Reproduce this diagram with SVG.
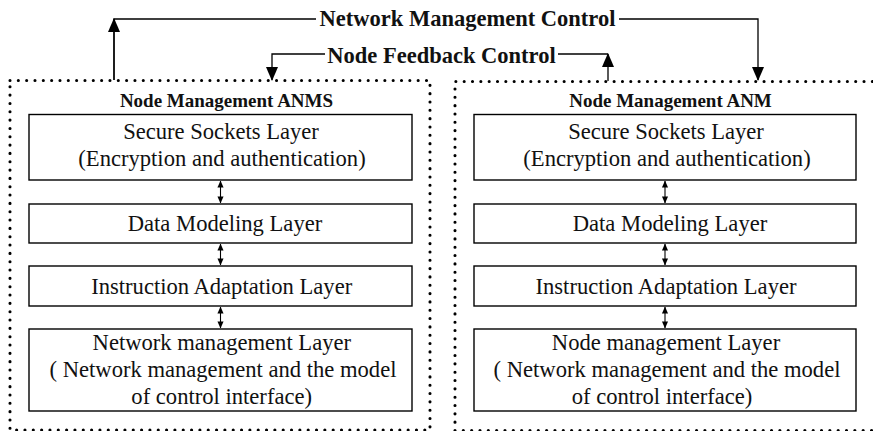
<svg xmlns="http://www.w3.org/2000/svg" width="873" height="431" viewBox="0 0 873 431">
<defs>
<style>
.dot{fill:none;stroke:#000;stroke-width:3.1;stroke-linecap:round;stroke-dasharray:0 8.33}
.box{fill:#fff;stroke:#000;stroke-width:1.4}
.ln{fill:none;stroke:#000;stroke-width:1.3}
.sl{fill:none;stroke:#000;stroke-width:1.1}
.t{font-family:"Liberation Serif","Times New Roman",serif;font-size:22.6px;fill:#111;text-anchor:middle}
.h{font-family:"Liberation Serif","Times New Roman",serif;font-size:19px;font-weight:bold;fill:#111;text-anchor:middle}
.c{font-family:"Liberation Serif","Times New Roman",serif;font-size:22.5px;font-weight:bold;fill:#111;text-anchor:middle}
</style>
<marker id="sm" markerWidth="7" markerHeight="8" refX="7.5" refY="3.5" orient="auto-start-reverse" markerUnits="userSpaceOnUse" viewBox="0 0 8 7">
<path d="M0,0 L8,3.5 L0,7 Z" fill="#000"/>
</marker>
<marker id="bg" markerWidth="14" markerHeight="12" refX="13" refY="6" orient="auto" markerUnits="userSpaceOnUse" viewBox="0 0 14 12">
<path d="M0,0 L14,6 L0,12 Z" fill="#000"/>
</marker>
</defs>

<g id="containers">
<rect class="dot" x="10" y="80.5" width="420" height="349.5"/>
<path class="dot" d="M455,430.5 L455,81.5 L880,81.5 M455,430.5 L880,430.5"/>
</g>

<g id="connectors">
<path class="ln" d="M114,80 L114,19 L316,19"/>
<path class="ln" d="M114,80 L114,19" marker-end="url(#bg)"/>
<path class="ln" d="M619,19 L758,19 L758,80" marker-end="url(#bg)"/>
<path class="ln" d="M325,54 L272,54 L272,80" marker-end="url(#bg)"/>
<path class="ln" d="M558,54 L608,54"/>
<path class="ln" d="M608,81 L608,54" marker-end="url(#bg)"/>
<path class="sl" d="M220.5,181 L220.5,203" marker-start="url(#sm)" marker-end="url(#sm)"/>
<path class="sl" d="M220.5,244 L220.5,265" marker-start="url(#sm)" marker-end="url(#sm)"/>
<path class="sl" d="M220.5,307 L220.5,328" marker-start="url(#sm)" marker-end="url(#sm)"/>
<path class="sl" d="M665,181 L665,203" marker-start="url(#sm)" marker-end="url(#sm)"/>
<path class="sl" d="M665,244 L665,265" marker-start="url(#sm)" marker-end="url(#sm)"/>
<path class="sl" d="M665,307 L665,328" marker-start="url(#sm)" marker-end="url(#sm)"/>
</g>

<g id="labels">
<text class="c" x="467.5" y="25.5">Network Management Control</text>
<text class="c" x="441.5" y="62.5">Node Feedback Control</text>
</g>

<g id="anms">
<text class="h" x="226.5" y="106.5">Node Management ANMS</text>
</g>
<g id="anms-ssl">
<rect class="box" x="29" y="114.5" width="383" height="65.5"/>
<text class="t" x="221" y="138.5">Secure Sockets Layer</text>
<text class="t" x="222" y="165.5">(Encryption and authentication)</text>
</g>
<g id="anms-data">
<rect class="box" x="29" y="204" width="383" height="39"/>
<text class="t" x="225" y="230.5">Data Modeling Layer</text>
</g>
<g id="anms-instr">
<rect class="box" x="29" y="266" width="383" height="40"/>
<text class="t" x="221.7" y="293.5">Instruction Adaptation Layer</text>
</g>
<g id="anms-net">
<rect class="box" x="29" y="329" width="383" height="82"/>
<text class="t" x="221.8" y="349.5">Network management Layer</text>
<text class="t" x="223" y="377">( Network management and the model</text>
<text class="t" x="221.7" y="404">of control interface)</text>
</g>

<g id="anm">
<text class="h" x="670.5" y="106.5">Node Management ANM</text>
</g>
<g id="anm-ssl">
<rect class="box" x="474" y="114.5" width="382" height="65.5"/>
<text class="t" x="666" y="138.5">Secure Sockets Layer</text>
<text class="t" x="667" y="165.5">(Encryption and authentication)</text>
</g>
<g id="anm-data">
<rect class="box" x="474" y="204" width="382" height="39"/>
<text class="t" x="670" y="230.5">Data Modeling Layer</text>
</g>
<g id="anm-instr">
<rect class="box" x="474" y="266" width="382" height="40"/>
<text class="t" x="666" y="293.5">Instruction Adaptation Layer</text>
</g>
<g id="anm-node">
<rect class="box" x="474" y="329" width="382" height="82"/>
<text class="t" x="666" y="349.5">Node management Layer</text>
<text class="t" x="667" y="377">( Network management and the model</text>
<text class="t" x="662" y="404">of control interface)</text>
</g>
</svg>
